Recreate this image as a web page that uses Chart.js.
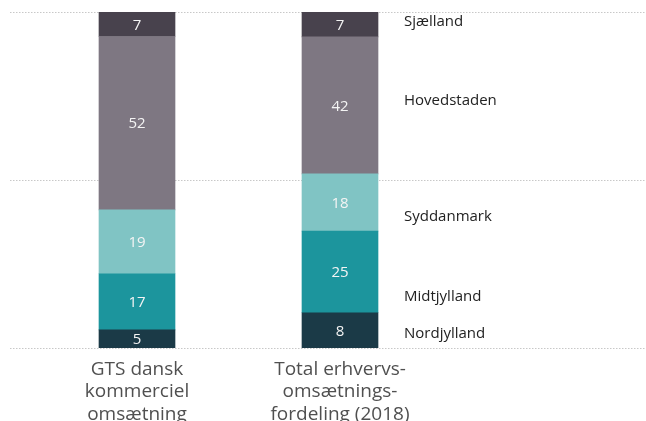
<!DOCTYPE html>
<html>
<head>
<meta charset="utf-8">
<script src="https://cdn.jsdelivr.net/npm/chart.js@4"></script>
<style>
html,body{margin:0;padding:0;background:#fff;}
#wrap{width:646px;height:421px;position:relative;}
</style>
</head>
<body>
<div id="wrap"><canvas id="c"></canvas></div>
<script>
// Categories (third is an empty slot used for the region labels)
const categories = [
  ['GTS dansk', 'kommerciel', 'omsætning'],
  ['Total erhvervs-', 'omsætnings-', 'fordeling (2018)'],
  ''
];
// Series (bottom to top)
const seriesNames = ['Nordjylland', 'Midtjylland', 'Syddanmark', 'Hovedstaden', 'Sjælland'];
const seriesColors = ['#1b3a47', '#1c959d', '#80c4c4', '#7e7782', '#48424d'];
// Segment sizes (GTS, Total)
const nordjylland = [5.4, 10.5];
const midtjylland = [16.7, 24.3];
const syddanmark  = [19.0, 17.0];
const hovedstaden = [51.6, 40.8];
const sjaelland   = [7.3, 7.4];
// Printed numbers on the segments
const printedNordjylland = ['5', '8'];
const printedMidtjylland = ['17', '25'];
const printedSyddanmark  = ['19', '18'];
const printedHovedstaden = ['52', '42'];
const printedSjaelland   = ['7', '7'];
// Where the region names sit, in value units of the y axis
const regionLabelAnchor = [4.2, 15.3, 39.1, 73.6, 97.1];
// y ticks / gridlines
const yTicks = [0, 50, 100];

const seriesValues = [nordjylland, midtjylland, syddanmark, hovedstaden, sjaelland];
const printed = [printedNordjylland, printedMidtjylland, printedSyddanmark, printedHovedstaden, printedSjaelland];

const gridPlugin = {
  id: 'fullGrid',
  beforeDatasetsDraw(chart) {
    const ctx = chart.ctx, y = chart.scales.y;
    ctx.save();
    ctx.strokeStyle = '#c8c8c8';
    ctx.lineWidth = 1;
    ctx.setLineDash([1.5, 1.5]);
    yTicks.forEach(v => {
      const py = Math.round(y.getPixelForValue(v)) + 0.5;
      ctx.beginPath();
      ctx.moveTo(10, py);
      ctx.lineTo(chart.width, py);
      ctx.stroke();
    });
    ctx.restore();
  }
};

const labelPlugin = {
  id: 'segLabels',
  afterDatasetsDraw(chart) {
    const ctx = chart.ctx, y = chart.scales.y;
    ctx.save();
    ctx.font = '15px "Open Sans"';
    ctx.textAlign = 'center';
    ctx.textBaseline = 'middle';
    ctx.fillStyle = '#f4f4f4';
    chart.data.datasets.forEach((ds, di) => {
      const meta = chart.getDatasetMeta(di);
      meta.data.forEach((el, i) => {
        if (i > 1) return;
        const cy = (el.y + el.base) / 2;
        ctx.fillText(printed[di][i], el.x, cy + 1);
      });
    });
    // region names
    const meta = chart.getDatasetMeta(0);
    const bar = meta.data[1];
    const x0 = bar.x + 64;
    ctx.textAlign = 'left';
    ctx.fillStyle = '#222';
    ctx.font = '15px "Open Sans"';
    seriesNames.forEach((n, i) => {
      ctx.fillText(n, x0, y.getPixelForValue(regionLabelAnchor[i]));
    });
    ctx.restore();
  }
};

new Chart(document.getElementById('c'), {
  type: 'bar',
  data: {
    labels: categories,
    datasets: seriesNames.map((n, i) => ({
      label: n,
      data: [seriesValues[i][0], seriesValues[i][1], null],
      backgroundColor: seriesColors[i],
      borderWidth: 0,
      barThickness: 76
    }))
  },
  options: {
    responsive: true,
    maintainAspectRatio: false,
    animation: false,
    layout: { padding: { left: 35.5, right: 1.5, top: 12, bottom: 0 } },
    plugins: { legend: { display: false }, tooltip: { enabled: false } },
    scales: {
      x: {
        stacked: true,
        grid: { display: false, drawTicks: false },
        border: { display: false },
        ticks: {
          color: '#505050',
          font: { family: 'Open Sans', size: 19, lineHeight: 1.16 },
          padding: 11,
          maxRotation: 0,
          autoSkip: false
        },
        afterFit(scale) { scale.height = 73; }
      },
      y: {
        stacked: true,
        display: false,
        min: 0,
        max: 100
      }
    }
  },
  plugins: [gridPlugin, labelPlugin]
});
</script>
</body>
</html>
